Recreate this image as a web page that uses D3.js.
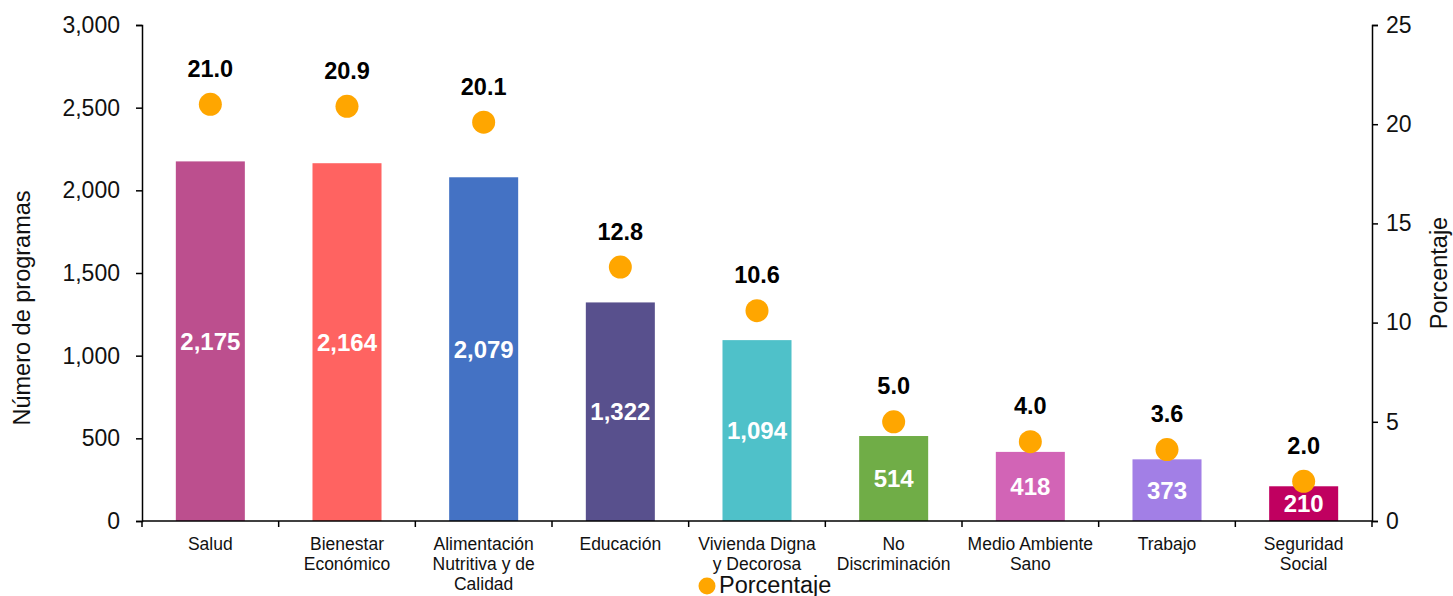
<!DOCTYPE html>
<html><head><meta charset="utf-8">
<script src="https://cdn.jsdelivr.net/npm/d3@7"></script>
<style>body{margin:0;background:#fff}svg{display:block;font-family:"Liberation Sans",Arial,sans-serif}</style>
</head><body><svg id="c" width="1453" height="596"></svg>
<script>
const categories = [["Salud"],["Bienestar","Económico"],["Alimentación","Nutritiva y de","Calidad"],["Educación"],["Vivienda Digna","y Decorosa"],["No","Discriminación"],["Medio Ambiente","Sano"],["Trabajo"],["Seguridad","Social"]];
const programas = [2175,2164,2079,1322,1094,514,418,373,210];
const porcentaje = [21.0,20.9,20.1,12.8,10.6,5.0,4.0,3.6,2.0];
const colors = ["#BC4F8E","#FF6361","#4472C4","#58508D","#4FC1C9","#70AD47","#D264B6","#A27FE6","#C00060"];
const leftTicks = [0,500,1000,1500,2000,2500,3000];
const rightTicks = [0,5,10,15,20,25];

const svg = d3.select("#c");
const L=142, R=1372, T=25, B=521;
const x = d3.scaleBand().domain(d3.range(categories.length)).range([L,R]).paddingInner(0).paddingOuter(0);
const y = d3.scaleLinear().domain([0,3000]).range([B,T]);
const y2 = d3.scaleLinear().domain([0,25]).range([B,T]);
const fmt = d3.format(",");

// bars
const bw = x.bandwidth()*0.505;
svg.selectAll("rect.bar").data(programas).join("rect")
  .attr("x",(d,i)=>x(i)+x.bandwidth()/2-bw/2).attr("width",bw)
  .attr("y",d=>y(d)).attr("height",d=>B-y(d)).attr("fill",(d,i)=>colors[i]);
svg.selectAll("text.bl").data(programas).join("text")
  .attr("x",(d,i)=>x(i)+x.bandwidth()/2).attr("y",d=>(y(d)+B)/2+8.5)
  .attr("text-anchor","middle").attr("fill","#fff").attr("font-weight","bold").attr("font-size",24)
  .text(d=>fmt(d));

// axes
const axL = svg.append("g").attr("transform",`translate(${L},0)`)
  .call(d3.axisLeft(y).tickValues(leftTicks).tickFormat(fmt).tickSize(6).tickSizeOuter(6));
const axR = svg.append("g").attr("transform",`translate(${R},0)`)
  .call(d3.axisRight(y2).tickValues(rightTicks).tickSize(6).tickSizeOuter(6));
[axL,axR].forEach(a=>{a.selectAll("path,line").attr("stroke","#000").attr("stroke-width",1.5);
  a.selectAll("text").attr("font-size",23).attr("fill","#111").attr("font-family","Liberation Sans, Arial, sans-serif");});
axL.selectAll("text").attr("x",-22);
axR.selectAll("text").attr("x",14);

// x axis
const xa = svg.append("g");
xa.append("line").attr("x1",L).attr("x2",R).attr("y1",B).attr("y2",B).attr("stroke","#000").attr("stroke-width",1.5);
xa.selectAll("line.t").data(d3.range(categories.length+1)).join("line")
  .attr("x1",i=>L+i*x.bandwidth()).attr("x2",i=>L+i*x.bandwidth()).attr("y1",B).attr("y2",B+6)
  .attr("stroke","#000").attr("stroke-width",1.5);
categories.forEach((lines,i)=>{
  const t = xa.append("text").attr("x",x(i)+x.bandwidth()/2).attr("y",550)
   .attr("text-anchor","middle").attr("font-size",17.5).attr("fill","#111");
  lines.forEach((s,j)=>t.append("tspan").attr("x",x(i)+x.bandwidth()/2).attr("dy",j?20:0).text(s));
});

// dots
svg.selectAll("circle.d").data(porcentaje).join("circle")
  .attr("cx",(d,i)=>x(i)+x.bandwidth()/2).attr("cy",d=>y2(d)).attr("r",11.5).attr("fill","#FFA600");
svg.selectAll("text.dl").data(porcentaje).join("text")
  .attr("x",(d,i)=>x(i)+x.bandwidth()/2).attr("y",d=>y2(d)-27.5)
  .attr("text-anchor","middle").attr("font-weight","bold").attr("font-size",23.5).attr("fill","#000")
  .text(d=>d.toFixed(1));

// axis titles
svg.append("text").attr("transform","translate(30,308) rotate(-90)").attr("text-anchor","middle")
  .attr("font-size",23.5).attr("fill","#111").text("Número de programas");
svg.append("text").attr("transform","translate(1447,273) rotate(-90)").attr("text-anchor","middle")
  .attr("font-size",23.5).attr("fill","#111").text("Porcentaje");

// legend
svg.append("circle").attr("cx",707).attr("cy",586).attr("r",8.5).attr("fill","#FFA600");
svg.append("text").attr("x",719).attr("y",593).attr("font-size",23.5).attr("fill","#111").text("Porcentaje");
</script></body></html>
